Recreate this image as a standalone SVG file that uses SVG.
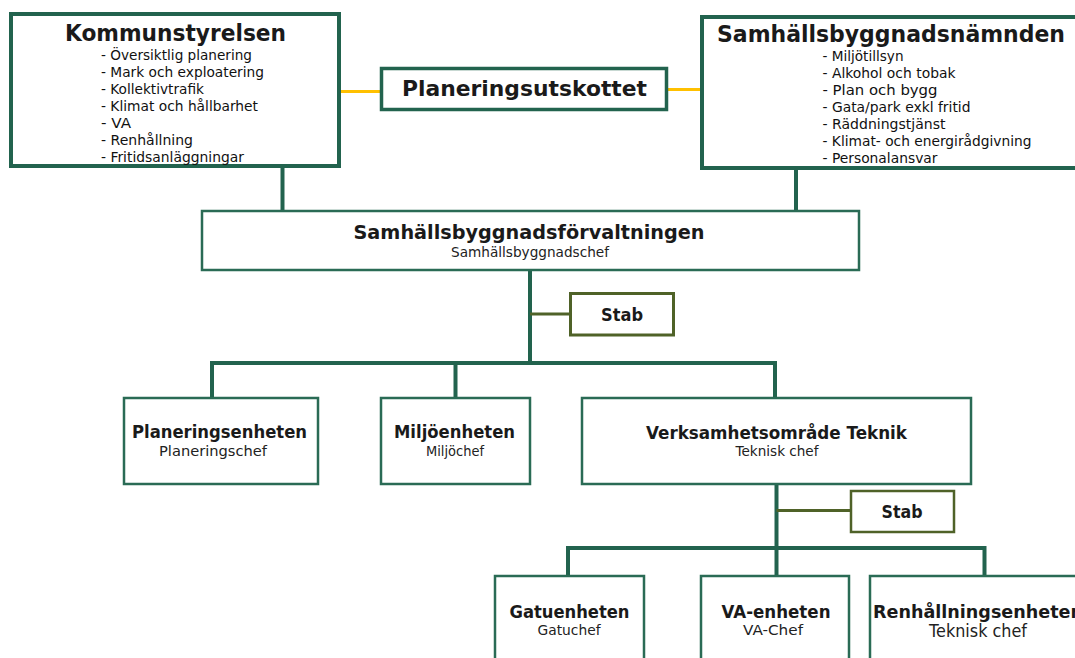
<svg xmlns="http://www.w3.org/2000/svg" width="1075" height="658" viewBox="0 0 1075 658">
<style>
.bg{fill:#fff}
.big{fill:#fff;stroke:#22634e;stroke-width:4}
.box{fill:#fff;stroke:#2a6b55;stroke-width:2.5}
.stab{fill:#fff;stroke:#4f6228;stroke-width:3}
.con{stroke:#22634e;stroke-width:4;fill:none}
.scon{stroke:#4f6228;stroke-width:3;fill:none}
.ycon{stroke:#ffc000;stroke-width:3;fill:none}
.t{font-family:"DejaVu Sans","Liberation Sans",sans-serif;font-weight:bold;fill:#1a1a1a;text-anchor:middle}
.s{font-family:"DejaVu Sans","Liberation Sans",sans-serif;fill:#222;text-anchor:middle;font-size:13.5px}
.li{font-family:"DejaVu Sans","Liberation Sans",sans-serif;fill:#111;font-size:14.5px}
</style>
<rect class="bg" x="0" y="0" width="1075" height="658"/>
<g id="connectors">
<line class="ycon" x1="341" y1="91.5" x2="381" y2="91.5"/>
<line class="ycon" x1="667" y1="89.5" x2="701" y2="89.5"/>
<line class="con" x1="282.5" y1="168" x2="282.5" y2="211"/>
<line class="con" x1="796" y1="170" x2="796" y2="211"/>
<line class="con" x1="530" y1="270" x2="530" y2="364"/>
<line class="scon" x1="530" y1="314" x2="570" y2="314"/>
<polyline class="con" points="212,398 212,363 455.5,363 455.5,398"/>
<polyline class="con" points="455.5,363 775,363 775,398"/>
<line class="con" x1="776.5" y1="484" x2="776.5" y2="576"/>
<line class="scon" x1="776.5" y1="510.5" x2="851" y2="510.5"/>
<polyline class="con" points="568,576 568,548 984.5,548 984.5,576"/>
</g>
<g id="kommunstyrelsen">
<rect class="big" x="11" y="14" width="328" height="152"/>
<text class="t" x="175.5" y="40.5" font-size="23.5" textLength="221" lengthAdjust="spacingAndGlyphs">Kommunstyrelsen</text>
<text class="li" x="101" y="60" textLength="151" lengthAdjust="spacingAndGlyphs">- Översiktlig planering</text>
<text class="li" x="101" y="77" textLength="163" lengthAdjust="spacingAndGlyphs">- Mark och exploatering</text>
<text class="li" x="101" y="94" textLength="103" lengthAdjust="spacingAndGlyphs">- Kollektivtrafik</text>
<text class="li" x="101" y="111" textLength="157" lengthAdjust="spacingAndGlyphs">- Klimat och hållbarhet</text>
<text class="li" x="101" y="128" textLength="30" lengthAdjust="spacingAndGlyphs">- VA</text>
<text class="li" x="101" y="145" textLength="92" lengthAdjust="spacingAndGlyphs">- Renhållning</text>
<text class="li" x="101" y="162" textLength="143" lengthAdjust="spacingAndGlyphs">- Fritidsanläggningar</text>
</g>
<g id="planeringsutskottet">
<rect class="big" x="381.5" y="68.5" width="285" height="41" style="stroke-width:3.5"/>
<text class="t" x="524.5" y="95.5" font-size="21.5" textLength="245" lengthAdjust="spacingAndGlyphs">Planeringsutskottet</text>
</g>
<g id="samhallsbyggnadsnamnden">
<rect class="big" x="702" y="17" width="400" height="151"/>
<text class="t" x="891" y="41.5" font-size="23" textLength="348" lengthAdjust="spacingAndGlyphs">Samhällsbyggnadsnämnden</text>
<text class="li" x="822.5" y="61" textLength="81" lengthAdjust="spacingAndGlyphs">- Miljötillsyn</text>
<text class="li" x="822.5" y="78" textLength="133" lengthAdjust="spacingAndGlyphs">- Alkohol och tobak</text>
<text class="li" x="822.5" y="95" textLength="115" lengthAdjust="spacingAndGlyphs">- Plan och bygg</text>
<text class="li" x="822.5" y="112" textLength="148" lengthAdjust="spacingAndGlyphs">- Gata/park exkl fritid</text>
<text class="li" x="822.5" y="129" textLength="123" lengthAdjust="spacingAndGlyphs">- Räddningstjänst</text>
<text class="li" x="822.5" y="146" textLength="209" lengthAdjust="spacingAndGlyphs">- Klimat- och energirådgivning</text>
<text class="li" x="822.5" y="163" textLength="115" lengthAdjust="spacingAndGlyphs">- Personalansvar</text>
</g>
<g id="forvaltningen">
<rect class="box" x="202" y="211" width="657" height="59"/>
<text class="t" x="529" y="238.5" font-size="19" textLength="351" lengthAdjust="spacingAndGlyphs">Samhällsbyggnadsförvaltningen</text>
<text class="s" x="530" y="257" textLength="158" lengthAdjust="spacingAndGlyphs">Samhällsbyggnadschef</text>
</g>
<g id="stab1">
<rect class="stab" x="570.5" y="293.5" width="103" height="41.5"/>
<text class="t" x="622" y="321" font-size="17" textLength="42" lengthAdjust="spacingAndGlyphs">Stab</text>
</g>
<g id="planeringsenheten">
<rect class="box" x="124" y="398" width="194" height="86"/>
<text class="t" x="219.5" y="438" font-size="17" textLength="175" lengthAdjust="spacingAndGlyphs">Planeringsenheten</text>
<text class="s" x="213" y="455.5" textLength="108" lengthAdjust="spacingAndGlyphs">Planeringschef</text>
</g>
<g id="miljoenheten">
<rect class="box" x="381" y="398" width="149" height="86"/>
<text class="t" x="454.5" y="438" font-size="17" textLength="121" lengthAdjust="spacingAndGlyphs">Miljöenheten</text>
<text class="s" x="455" y="455.5" textLength="58" lengthAdjust="spacingAndGlyphs">Miljöchef</text>
</g>
<g id="teknik">
<rect class="box" x="582" y="398" width="389" height="86"/>
<text class="t" x="776.5" y="438.5" font-size="17" textLength="261" lengthAdjust="spacingAndGlyphs">Verksamhetsområde Teknik</text>
<text class="s" x="777" y="455.5" textLength="83" lengthAdjust="spacingAndGlyphs">Teknisk chef</text>
</g>
<g id="stab2">
<rect class="stab" x="851" y="491" width="103" height="41" style="stroke-width:2.5"/>
<text class="t" x="902" y="517.5" font-size="17" textLength="41" lengthAdjust="spacingAndGlyphs">Stab</text>
</g>
<g id="gatuenheten">
<rect class="box" x="495" y="576" width="149" height="100"/>
<text class="t" x="569.5" y="617.5" font-size="17" textLength="120" lengthAdjust="spacingAndGlyphs">Gatuenheten</text>
<text class="s" x="569" y="634.5" textLength="63" lengthAdjust="spacingAndGlyphs">Gatuchef</text>
</g>
<g id="vaenheten">
<rect class="box" x="701" y="576" width="148" height="100"/>
<text class="t" x="776" y="617.5" font-size="17" textLength="109" lengthAdjust="spacingAndGlyphs">VA-enheten</text>
<text class="s" x="773" y="634.5" textLength="60" lengthAdjust="spacingAndGlyphs">VA-Chef</text>
</g>
<g id="renhallningsenheten">
<rect class="box" x="870" y="576" width="250" height="100"/>
<text class="t" x="873" y="617.5" font-size="17" style="text-anchor:start" textLength="210" lengthAdjust="spacingAndGlyphs">Renhållningsenheten</text>
<text class="s" x="978" y="637" style="font-size:17px" textLength="98" lengthAdjust="spacingAndGlyphs">Teknisk chef</text>
</g>
</svg>
